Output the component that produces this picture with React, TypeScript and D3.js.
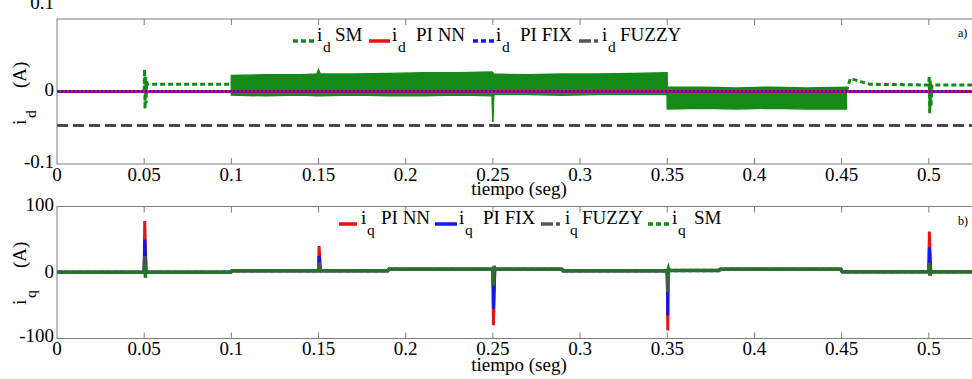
import React from 'react';
import * as d3 from 'd3';

// ---------- shared axis data ----------
const X_TICKS = [0, 0.05, 0.1, 0.15, 0.2, 0.25, 0.3, 0.35, 0.4, 0.45, 0.5];
const X_TICK_LABELS = ['0', '0.05', '0.1', '0.15', '0.2', '0.25', '0.3', '0.35', '0.4', '0.45', '0.5'];
const ID_TICKS = [-0.1, 0, 0.1];
const ID_TICK_LABELS = ['-0.1', '0', '0.1'];
const IQ_TICKS = [-100, 0, 100];
const IQ_TICK_LABELS = ['-100', '0', '100'];

// ---------- panel a) i_d ----------
const ID_FUZZY_T = [0, 0.55];
const ID_FUZZY_V = [-0.047, -0.047];
const ID_PINN_T = [0, 0.55];
const ID_PINN_V = [0, 0];
const ID_PIFIX_T = [0, 0.55];
const ID_PIFIX_V = [0, 0];
// SM start transient and plateau
const ID_SM_T = [0, 0.05, 0.0502, 0.0505, 0.0508, 0.0511, 0.0514, 0.0518, 0.053, 0.1];
const ID_SM_V = [0, 0, 0.031, -0.024, 0.022, -0.016, 0.014, 0.01, 0.01, 0.01];
// SM chattering band (upper / lower envelope)
const ID_SM_BAND_T = [0.1, 0.12, 0.14, 0.149, 0.15, 0.151, 0.17, 0.19, 0.21, 0.23, 0.2495, 0.25, 0.2505, 0.27, 0.29, 0.31, 0.33, 0.3499, 0.35, 0.37, 0.39, 0.41, 0.43, 0.4527];
const ID_SM_BAND_HI = [0.022, 0.023, 0.023, 0.024, 0.03, 0.024, 0.024, 0.025, 0.026, 0.026, 0.027, 0.026, 0.024, 0.023, 0.024, 0.024, 0.025, 0.026, 0.006, 0.006, 0.005, 0.006, 0.005, 0.006];
const ID_SM_BAND_LO = [-0.005, -0.006, -0.005, -0.006, -0.006, -0.006, -0.005, -0.006, -0.006, -0.005, -0.006, -0.042, -0.004, -0.004, -0.005, -0.004, -0.004, -0.004, -0.024, -0.023, -0.024, -0.023, -0.024, -0.024];
// SM tail after 0.45
const ID_SM_TAIL_T = [0.4527, 0.455, 0.466, 0.5, 0.5002, 0.5005, 0.5008, 0.5012, 0.5018, 0.55];
const ID_SM_TAIL_V = [0, 0.018, 0.01, 0.009, 0.022, -0.03, 0.016, -0.02, 0.009, 0.009];

// ---------- panel b) i_q ----------
const IQ_STEP_T = [0, 0.1, 0.19, 0.29, 0.35, 0.38, 0.45, 0.55];
const IQ_STEP_V = [0.5, 2.5, 5, 2.5, 3, 5, 1];
const IQ_SPIKE_T = [0.05, 0.15, 0.25, 0.35, 0.5];
const IQ_PINN_PEAK = [78, 40, -80, -88, 62];
const IQ_PIFIX_PEAK = [50, 25, -55, -65, 38];
const IQ_FUZZY_PEAK = [25, 15, -20, -30, 15];
const IQ_FUZZY_REBOUND = [-4, 0, 10, 5, -3];
const IQ_SM_PEAK = [12, 5, -18, -12, 12];
const IQ_SM_REBOUND = [-8, 0, 8, 6, -5];

// ---------- layout ----------
const W = 972;
const H = 379;
const X0 = 57;
const X1 = 1016;
const A_TOP = 19;
const A_BOT = 164;
const B_TOP = 206.5;
const B_BOT = 338.5;

const FONT = "'Liberation Serif'";
const FS = 19;
const FS_SUB = 15.5;
const GREEN = '#168a18';
const RED = '#ee1111';
const BLUE = '#1515ee';
const GRAY = '#4a4656';
const FRAME = '#7d7d7d';

const x = d3.scaleLinear().domain([0, 0.55]).range([X0, X1]);
const yA = d3.scaleLinear().domain([-0.1, 0.1]).range([A_BOT, A_TOP]);
const yB = d3.scaleLinear().domain([-100, 100]).range([B_BOT, B_TOP]);

function zip(t: number[], v: number[]): [number, number][] {
  return t.map((tt, i) => [tt, v[i]]);
}

function iqBase(t: number): number {
  for (let i = 0; i < IQ_STEP_V.length; i++) {
    if (t < IQ_STEP_T[i + 1]) return IQ_STEP_V[i];
  }
  return IQ_STEP_V[IQ_STEP_V.length - 1];
}

function iqSeries(peaks: number[], rebounds?: number[]): [number, number][] {
  const pts: [number, number][] = [];
  pts.push([0, IQ_STEP_V[0]]);
  for (let i = 1; i < IQ_STEP_T.length - 1; i++) {
    const t = IQ_STEP_T[i];
    pts.push([t - 0.0004, IQ_STEP_V[i - 1]]);
    pts.push([t + 0.0004, IQ_STEP_V[i]]);
  }
  IQ_SPIKE_T.forEach((s, k) => {
    const b = iqBase(s);
    pts.push([s, b]);
    pts.push([s + 0.0003, peaks[k]]);
    if (rebounds && rebounds[k] !== 0) pts.push([s + 0.0007, rebounds[k]]);
    pts.push([s + 0.0011, b]);
  });
  pts.push([0.55, IQ_STEP_V[IQ_STEP_V.length - 1]]);
  pts.sort((a, b) => a[0] - b[0]);
  return pts;
}

const lineA = d3.line<[number, number]>().x(d => x(d[0])).y(d => yA(d[1]));
const lineB = d3.line<[number, number]>().x(d => x(d[0])).y(d => yB(d[1]));
const bandArea = d3
  .area<number>()
  .x((_, i) => x(ID_SM_BAND_T[i]))
  .y0((_, i) => yA(ID_SM_BAND_LO[i]))
  .y1((_, i) => yA(ID_SM_BAND_HI[i]));

function T(props: any) {
  const { size, children, ...rest } = props;
  return (
    <text {...rest} fill="#000" fontSize={size} style={{ fontFamily: FONT }}>
      {children}
    </text>
  );
}

function Frame({ top, bot }: { top: number; bot: number }) {
  return (
    <g>
      <rect x={X0} y={top} width={X1 - X0} height={bot - top} fill="none" stroke={FRAME} strokeWidth={1} />
      {X_TICKS.map((t, i) =>
        i === 0 ? null : (
          <g key={i}>
            <line x1={x(t)} x2={x(t)} y1={top} y2={top + 6} stroke={FRAME} strokeWidth={1} />
            <line x1={x(t)} x2={x(t)} y1={bot} y2={bot - 6} stroke={FRAME} strokeWidth={1} />
          </g>
        )
      )}
    </g>
  );
}

function XLabels({ baseline, titleBaseline }: { baseline: number; titleBaseline: number }) {
  return (
    <g>
      {X_TICKS.map((t, i) => (
        <T key={i} x={x(t)} y={baseline} textAnchor="middle" size={FS}>
          {X_TICK_LABELS[i]}
        </T>
      ))}
      <T x={519} y={titleBaseline} textAnchor="middle" size={FS}>
        tiempo (seg)
      </T>
    </g>
  );
}

function YLabels({ ticks, labels, scale, offsets }: { ticks: number[]; labels: string[]; scale: (v: number) => number; offsets: number[] }) {
  return (
    <g>
      {ticks.map((t, i) => (
        <T key={i} x={54} y={scale(t) + offsets[i]} textAnchor="end" size={FS}>
          {labels[i]}
        </T>
      ))}
    </g>
  );
}

function YTitle({ cx, cy, sub }: { cx: number; cy: number; sub: string }) {
  return (
    <g transform={`translate(${cx},${cy}) rotate(-90)`}>
      <T x={0} y={0} size={FS}>i</T>
      <T x={7} y={10} size={FS_SUB}>{sub}</T>
      <T x={37} y={0} size={FS}>(A)</T>
    </g>
  );
}

type LegendItem = { kind: 'solid' | 'dot' | 'dashdot'; color: string; x0: number; x1: number; ix: number; sx: number; lx: number; label: string };

function Legend({ items, y, sub }: { items: LegendItem[]; y: number; sub: string }) {
  return (
    <g>
      {items.map((it, k) => {
        let dash: string | undefined;
        if (it.kind === 'dot') dash = '5,3';
        if (it.kind === 'dashdot') dash = '12,3,4,3';
        return (
          <g key={k}>
            <line x1={it.x0} x2={it.x1} y1={y} y2={y} stroke={it.color} strokeWidth={3.5} strokeDasharray={dash} />
            <T x={it.ix} y={y} size={FS}>i</T>
            <T x={it.sx} y={y + 11} size={FS_SUB}>{sub}</T>
            <T x={it.lx} y={y} size={FS}>{it.label}</T>
          </g>
        );
      })}
    </g>
  );
}

const LEGEND_A: LegendItem[] = [
  { kind: 'dot', color: GREEN, x0: 293, x1: 316, ix: 317, sx: 323, lx: 335, label: 'SM' },
  { kind: 'solid', color: RED, x0: 369, x1: 390, ix: 392, sx: 398, lx: 416, label: 'PI NN' },
  { kind: 'dot', color: BLUE, x0: 473, x1: 494, ix: 496, sx: 502, lx: 520, label: 'PI FIX' },
  { kind: 'dashdot', color: '#555', x0: 579, x1: 600, ix: 602, sx: 608, lx: 620, label: 'FUZZY' },
];

const LEGEND_B: LegendItem[] = [
  { kind: 'solid', color: RED, x0: 339, x1: 357, ix: 361, sx: 367, lx: 381, label: 'PI NN' },
  { kind: 'solid', color: BLUE, x0: 435, x1: 457, ix: 459, sx: 465, lx: 483, label: 'PI FIX' },
  { kind: 'dashdot', color: '#555', x0: 541, x1: 563, ix: 565, sx: 570, lx: 582, label: 'FUZZY' },
  { kind: 'dot', color: GREEN, x0: 648, x1: 670, ix: 672, sx: 678, lx: 694, label: 'SM' },
];

export default function App() {
  const smA = zip(ID_SM_T, ID_SM_V);
  const smTail = zip(ID_SM_TAIL_T, ID_SM_TAIL_V);
  const iqRed = iqSeries(IQ_PINN_PEAK);
  const iqBlue = iqSeries(IQ_PIFIX_PEAK);
  const iqGray = iqSeries(IQ_FUZZY_PEAK, IQ_FUZZY_REBOUND);
  const iqGreen = iqSeries(IQ_SM_PEAK, IQ_SM_REBOUND);

  return (
    <svg width={W} height={H} style={{ position: 'absolute', left: 0, top: 0, background: '#fff', fontFamily: FONT }}>
      <defs>
        <clipPath id="clipA">
          <rect x={X0} y={A_TOP - 2} width={X1 - X0} height={A_BOT - A_TOP + 4} />
        </clipPath>
        <clipPath id="clipB">
          <rect x={X0} y={B_TOP} width={X1 - X0} height={B_BOT - B_TOP} />
        </clipPath>
      </defs>

      {/* Panel a */}
      <g clipPath="url(#clipA)">
        <path d={lineA(zip(ID_FUZZY_T, ID_FUZZY_V)) || ''} fill="none" stroke={GRAY} strokeWidth={3} strokeDasharray="11,5" />
        <path d={bandArea(ID_SM_BAND_T) || ''} fill={GREEN} stroke={GREEN} strokeWidth={1.5} />
        <path d={lineA(smA) || ''} fill="none" stroke={GREEN} strokeWidth={3} strokeDasharray="5,3" />
        <path d={lineA(smTail) || ''} fill="none" stroke={GREEN} strokeWidth={3} strokeDasharray="5,3" />
        <path d={lineA(zip(ID_PINN_T, ID_PINN_V)) || ''} fill="none" stroke={RED} strokeWidth={3} />
        <path d={lineA(zip(ID_PIFIX_T, ID_PIFIX_V)) || ''} fill="none" stroke={BLUE} strokeWidth={3} strokeDasharray="2,2" />
      </g>
      <Frame top={A_TOP} bot={A_BOT} />
      <YLabels ticks={ID_TICKS} labels={ID_TICK_LABELS} scale={yA} offsets={[4, 4, -10]} />
      <XLabels baseline={181} titleBaseline={195} />
      <YTitle cx={26} cy={125} sub="d" />
      <Legend items={LEGEND_A} y={41} sub="d" />
      <T x={958} y={37} size={12}>a)</T>

      {/* Panel b */}
      <g clipPath="url(#clipB)">
        <path d={lineB(iqRed) || ''} fill="none" stroke={RED} strokeWidth={3} />
        <path d={lineB(iqBlue) || ''} fill="none" stroke={BLUE} strokeWidth={3} />
        <path d={lineB(iqGray) || ''} fill="none" stroke="#4a5550" strokeWidth={3.5} />
        <path d={lineB(iqGreen) || ''} fill="none" stroke="#1e7a22" strokeWidth={3.5} strokeDasharray="5,2" />
      </g>
      <Frame top={B_TOP} bot={B_BOT} />
      <YLabels ticks={IQ_TICKS} labels={IQ_TICK_LABELS} scale={yB} offsets={[3, 5, 4]} />
      <XLabels baseline={355} titleBaseline={371} />
      <YTitle cx={26} cy={305} sub="q" />
      <Legend items={LEGEND_B} y={224} sub="q" />
      <T x={958} y={225} size={12}>b)</T>
    </svg>
  );
}
